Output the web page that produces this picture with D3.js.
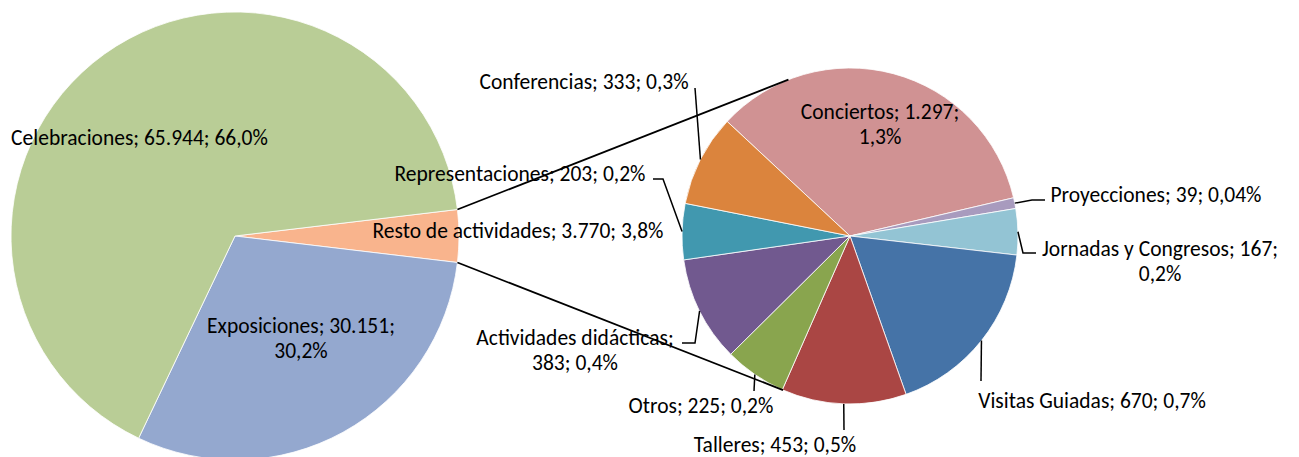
<!DOCTYPE html>
<html><head><meta charset="utf-8">
<script src="https://cdn.jsdelivr.net/npm/d3@7"></script>
<style>body{margin:0;background:#fff}svg{display:block}</style>
</head><body>
<svg id="c" width="1299" height="457"></svg>
<script>
// ---- data ----
const mainCategories = ["Resto de actividades", "Exposiciones", "Celebraciones"];
const mainValues = [3770, 30151, 65944];
const mainPercents = ["3,8%", "30,2%", "66,0%"];
const mainColors = ["#F9B48D", "#94A8CF", "#B9CD96"];

const subCategories = ["Conciertos", "Proyecciones", "Jornadas y Congresos", "Visitas Guiadas", "Talleres", "Otros", "Actividades didácticas", "Representaciones", "Conferencias"];
const subValues = [1297, 39, 167, 670, 453, 225, 383, 203, 333];
const subPercents = ["1,3%", "0,04%", "0,2%", "0,7%", "0,5%", "0,2%", "0,4%", "0,2%", "0,3%"];
const subColors = ["#D09293", "#A89BBE", "#93C4D4", "#4573A7", "#AA4644", "#89A54E", "#71598F", "#4198AF", "#DB843D"];

const fmt = v => d3.format(",")(v).replace(/,/g, ".");

// ---- layout ----
const svg = d3.select("#c");
const deg = Math.PI / 180;
const L = {cx: 235, cy: 236, r: 224};
const R = {cx: 850, cy: 236, r: 168};

const restAngle = mainValues[0] / d3.sum(mainValues) * 2 * Math.PI;
const mainPie = d3.pie().sort(null).value(d => d)
  .startAngle(Math.PI / 2 - restAngle / 2).endAngle(Math.PI / 2 - restAngle / 2 + 2 * Math.PI);
const subPie = d3.pie().sort(null).value(d => d)
  .startAngle(-47 * deg).endAngle(-47 * deg + 2 * Math.PI);

const mainArcs = mainPie(mainValues);
const subArcs = subPie(subValues);

const gL = svg.append("g").attr("transform", `translate(${L.cx},${L.cy})`);
gL.selectAll("path").data(mainArcs).join("path")
  .attr("d", d3.arc().innerRadius(0).outerRadius(L.r))
  .attr("fill", (d, i) => mainColors[i])
  .attr("stroke", "#fff").attr("stroke-width", 0.8);

const gR = svg.append("g").attr("transform", `translate(${R.cx},${R.cy})`);
gR.selectAll("path").data(subArcs).join("path")
  .attr("d", d3.arc().innerRadius(0).outerRadius(R.r))
  .attr("fill", (d, i) => subColors[i])
  .attr("stroke", "#fff").attr("stroke-width", 0.8);

// point on circle for d3 angle
const pt = (c, a, r) => [c.cx + r * Math.sin(a), c.cy - r * Math.cos(a)];

// connector lines
const rest = mainArcs[0];
const conn = [
  [pt(L, rest.startAngle, L.r), pt(R, -21.5 * deg, R.r)],
  [pt(L, rest.endAngle, L.r), pt(R, 203.5 * deg, R.r)]
];
svg.selectAll("line.conn").data(conn).join("line").attr("class", "conn")
  .attr("x1", d => d[0][0]).attr("y1", d => d[0][1])
  .attr("x2", d => d[1][0]).attr("y2", d => d[1][1])
  .attr("stroke", "#000").attr("stroke-width", 1.8);

// leader lines: relative waypoints after slice mid-point
const leaderPts = {
  "Conferencias": [[695, 88]],
  "Representaciones": [[663, 179], [653, 179]],
  "Proyecciones": [[1032, 200], [1045, 200]],
  "Jornadas y Congresos": [[1023, 253], [1036, 253]],
  "Visitas Guiadas": [[981, 381]],
  "Talleres": [[844, 430]],
  "Otros": [[754, 391]],
  "Actividades didácticas": [[695, 343], [682, 343]]
};
const line = d3.line();
subArcs.forEach((a, i) => {
  const w = leaderPts[subCategories[i]];
  if (!w) return;
  const m = pt(R, (a.startAngle + a.endAngle) / 2, R.r);
  svg.append("path").attr("d", line([m, ...w]))
    .attr("fill", "none").attr("stroke", "#000").attr("stroke-width", 1.5);
});

// labels: [x center, first baseline, lines]
const labelPos = {
  "Celebraciones": [139.5, 145, 1],
  "Exposiciones": [301, 333, 2],
  "Resto de actividades": [518, 238, 1],
  "Conciertos": [880, 119, 2],
  "Proyecciones": [1156, 202, 1],
  "Jornadas y Congresos": [1160, 256, 2],
  "Visitas Guiadas": [1092, 408, 1],
  "Talleres": [775, 452, 1],
  "Otros": [701, 413, 1],
  "Actividades didácticas": [575, 345, 2],
  "Representaciones": [520, 181, 1],
  "Conferencias": [584, 89, 1]
};
const labels = [];
mainCategories.forEach((c, i) => labels.push([c, `${c}; ${fmt(mainValues[i])}; ${mainPercents[i]}`]));
subCategories.forEach((c, i) => labels.push([c, `${c}; ${fmt(subValues[i])}; ${subPercents[i]}`]));

const fontFam = "Carlito, Calibri, Lato, 'Open Sans', sans-serif";
// calibrate font size so the Celebraciones label is ~257px wide
const probe = svg.append("text").attr("font-family", fontFam).attr("font-size", 100)
  .text(labels.find(l => l[0] === "Celebraciones")[1]);
const fs = 100 * 257 / probe.node().getComputedTextLength();
probe.remove();
const lh = 25;

labels.forEach(([c, txt]) => {
  const [x, y, n] = labelPos[c];
  let lines = [txt];
  if (n === 2) {
    // break before the last "; part" group as in the reference
    const parts = txt.split("; ");
    if (c === "Actividades didácticas") lines = [parts[0] + ";", parts.slice(1).join("; ")];
    else lines = [parts.slice(0, 2).join("; ") + ";", parts[2]];
  }
  const t = svg.append("text").attr("font-family", fontFam).attr("font-size", fs)
    .attr("fill", "#000").attr("text-anchor", "middle");
  lines.forEach((s, k) => t.append("tspan").attr("x", x).attr("y", y + k * lh).text(s));
});
</script>
</body></html>
